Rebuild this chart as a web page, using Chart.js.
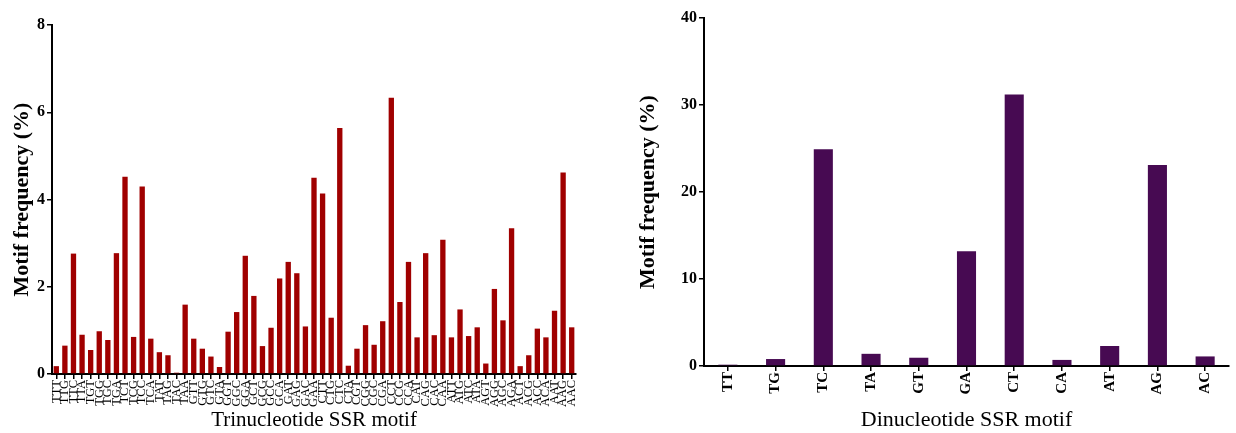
<!DOCTYPE html>
<html>
<head>
<meta charset="utf-8">
<script src="https://cdn.jsdelivr.net/npm/chart.js@4/dist/chart.umd.min.js"></script>
<style>
  html, body { margin: 0; padding: 0; background: #fff; }
  #wrap { position: relative; width: 1236px; height: 433px; overflow: hidden; }
  #c1 { position: absolute; left: 0; top: 0; }
  #c2 { position: absolute; left: 600px; top: 0; }
</style>
</head>
<body>
<div id="wrap">
  <canvas id="c1" width="590" height="433"></canvas>
  <canvas id="c2" width="636" height="433"></canvas>
</div>
<script>
const triLabels = ["TTT","TTG","TTC","TTA","TGT","TGG","TGC","TGA","TCT","TCG","TCC","TCA","TAT","TAG","TAC","TAA",
  "GTT","GTG","GTC","GTA","GGT","GGC","GGA","GCT","GCG","GCC","GCA","GAT","GAG","GAC","GAA",
  "CTT","CTG","CTC","CTA","CGT","CGG","CGC","CGA","CCT","CCG","CCA","CAT","CAG","CAC","CAA",
  "ATT","ATG","ATC","ATA","AGT","AGG","AGC","AGA","ACT","ACG","ACC","ACA","AAT","AAG","AAC"];
const triValues = [0.18,0.65,2.76,0.90,0.55,0.98,0.78,2.77,4.52,0.85,4.30,0.81,0.50,0.43,0.03,1.59,
  0.81,0.58,0.40,0.16,0.97,1.42,2.71,1.79,0.64,1.06,2.19,2.57,2.31,1.09,4.50,
  4.14,1.29,5.64,0.19,0.58,1.12,0.67,1.21,6.33,1.65,2.57,0.84,2.77,0.89,3.08,
  0.84,1.48,0.87,1.07,0.24,1.95,1.23,3.34,0.18,0.43,1.04,0.84,1.45,4.62,1.07];
const diLabels = ["TT","TG","TC","TA","GT","GA","CT","CA","AT","AG","AC"];
const diValues = [0.15,0.8,24.9,1.4,0.95,13.2,31.2,0.7,2.3,23.1,1.1];

const SERIF = "'Liberation Serif', 'Times New Roman', serif";

function makeChart(id, labels, values, color, barPct, yMax, yStep, xTitle, opts) {
  return new Chart(document.getElementById(id), {
    type: 'bar',
    data: { labels: labels, datasets: [{ data: values, backgroundColor: color, borderWidth: 0,
      barPercentage: barPct, categoryPercentage: 1 }] },
    options: {
      responsive: false, animation: false,
      layout: { padding: { left: 0, right: opts.padRight, top: opts.padTop, bottom: 0 } },
      plugins: { legend: { display: false }, tooltip: { enabled: false } },
      scales: {
        x: {
          grid: { display: true, drawOnChartArea: false, drawTicks: true, tickLength: 5, color: '#000', lineWidth: 1.5, offset: false },
          border: { display: true, color: '#000', width: 2 },
          ticks: { autoSkip: false, minRotation: 90, maxRotation: 90, color: '#000', padding: 1,
            font: { family: SERIF, size: opts.xTickSize, weight: opts.xTickWeight } },
          title: { display: true, text: xTitle, color: '#000', padding: { top: 0, bottom: opts.xTitlePad },
            font: { family: SERIF, size: opts.xTitleSize } },
          afterFit: function (s) { s.height = opts.xHeight; }
        },
        y: {
          min: 0, max: yMax,
          grid: { display: true, drawOnChartArea: false, drawTicks: true, tickLength: 5, color: '#000', lineWidth: 1.5 },
          border: { display: true, color: '#000', width: 2 },
          ticks: { stepSize: yStep, color: '#000', padding: 2,
            font: { family: SERIF, size: 16, weight: 'bold' } },
          title: { display: true, text: 'Motif frequency (%)', color: '#000', padding: { top: opts.yTitlePad, bottom: 0 },
            font: { family: SERIF, size: 22, weight: 'bold' } },
          afterFit: function (s) { s.width = opts.yWidth; }
        }
      }
    }
  });
}

makeChart('c1', triLabels, triValues, '#a00000', 0.62, 8, 2, 'Trinucleotide SSR motif',
  { padRight: 14, padTop: 25, xHeight: 59, xTitlePad: 0, xTitleSize: 21, yWidth: 52, yTitlePad: 9, xTickSize: 12.5, xTickWeight: 'normal' });
makeChart('c2', diLabels, diValues, '#470a52', 0.4, 40, 10, 'Dinucleotide SSR motif',
  { padRight: 7, padTop: 18, xHeight: 67, xTitlePad: 0, xTitleSize: 22, yWidth: 104, yTitlePad: 35, xTickSize: 15, xTickWeight: 'bold' });
</script>
</body>
</html>
